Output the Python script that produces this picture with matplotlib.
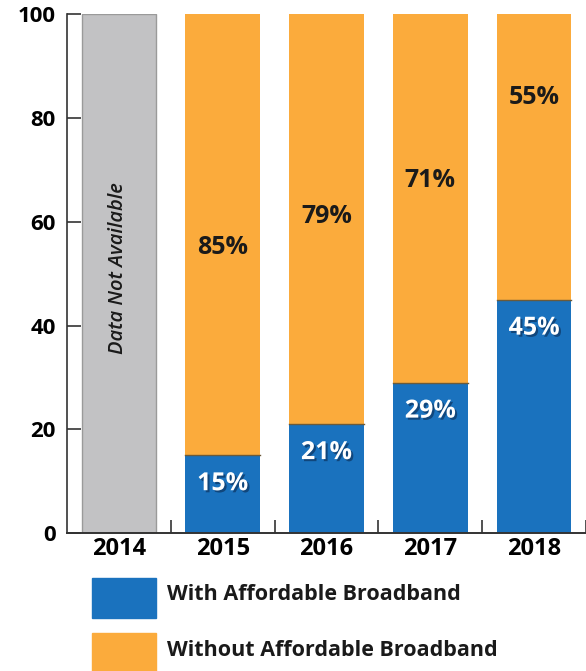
import matplotlib
matplotlib.use("Agg")
import matplotlib.pyplot as plt
import matplotlib.patheffects as pe
from matplotlib.patches import Rectangle

years = ["2014", "2015", "2016", "2017", "2018"]
with_bb = [None, 15, 21, 29, 45]
without_bb = [None, 85, 79, 71, 55]
with_labels = ["", "15%", "21%", "29%", "45%"]
without_labels = ["", "85%", "79%", "71%", "55%"]
na_text = "Data Not Available"
legend_labels = ["With Affordable Broadband", "Without Affordable Broadband"]
yticks = [0, 20, 40, 60, 80, 100]

BLUE = "#1a72be"
ORANGE = "#fbab3c"
GRAY = "#c2c2c4"

plt.rcParams['font.family'] = ['Open Sans', 'DejaVu Sans']

fig = plt.figure(figsize=(5.86, 6.71), dpi=100)
ax = fig.add_axes([67/586, 1-533/671, 1-67/586, (533-14.3)/671])

x = list(range(len(years)))
w = 0.72
for i, yr in enumerate(years):
    if with_bb[i] is None:
        ax.bar(i, 100, width=w, color=GRAY, edgecolor="#9a9a9a", linewidth=1.0, zorder=2)
        ax.text(i - 0.01, 51, na_text, rotation=90, ha="center", va="center",
                fontsize=14.5, style="italic", fontweight="semibold", color="#1a1a1a", zorder=3)
    else:
        ax.bar(i, with_bb[i], width=w, color=BLUE, zorder=2)
        ax.bar(i, without_bb[i], bottom=with_bb[i], width=w, color=ORANGE, zorder=2)
        ax.plot([i - w/2, i + w/2], [with_bb[i], with_bb[i]], color="#6b5a3a", lw=1.0, zorder=3)
        ax.text(i, with_bb[i] - 5.5, with_labels[i], ha="center", va="center",
                fontsize=18, fontweight="bold", color="white", zorder=4,
                path_effects=[pe.withSimplePatchShadow(offset=(1.5, -1.5), shadow_rgbFace="#0a2a50", alpha=0.6)])

# orange label positions (value axis)
orange_label_y = [None, 55, 61, 68, 84]
for i in range(len(years)):
    if orange_label_y[i] is not None:
        ax.text(i, orange_label_y[i], without_labels[i], ha="center", va="center",
                fontsize=18, fontweight="bold", color="#1a1a1a", zorder=4)

ax.set_xlim(-0.5, len(years) - 0.5)
ax.set_ylim(0, 100)
ax.set_yticks(yticks)
ax.set_yticklabels([str(t) for t in yticks], fontsize=16, fontweight="bold")
ax.set_xticks(x)
ax.set_xticklabels(years, fontsize=17, fontweight="bold")
ax.tick_params(axis="x", length=0, pad=3)
ax.tick_params(axis="y", direction="in", length=10, width=1.2, color="#333333", pad=8)
ax.set_xticks([i + 0.5 for i in range(len(years) - 1)] + [len(years) - 0.5], minor=True)
ax.tick_params(axis="x", which="minor", direction="in", length=9.5, width=1.2, color="#333333")
for s in ["top", "right"]:
    ax.spines[s].set_visible(False)
ax.spines["left"].set_color("#333333")
ax.spines["bottom"].set_color("#333333")
ax.spines["left"].set_linewidth(1.2)
ax.spines["bottom"].set_linewidth(1.4)
ax.spines["left"].set_zorder(5)

# legend
H = 671.0
Wd = 586.0
leg_colors = [BLUE, ORANGE]
leg_tops = [578, 633]
for c, top, lab in zip(leg_colors, leg_tops, legend_labels):
    fig.patches.append(Rectangle((92/Wd, 1 - (top + 40)/H), 64/Wd, 40/H,
                                 transform=fig.transFigure, color=c))
    fig.text(167/Wd, 1 - (top + 17)/H, lab, ha="left", va="center",
             fontsize=15.5, fontweight="bold", color="#1a1a1a")

fig.savefig("out.png", dpi=100)
